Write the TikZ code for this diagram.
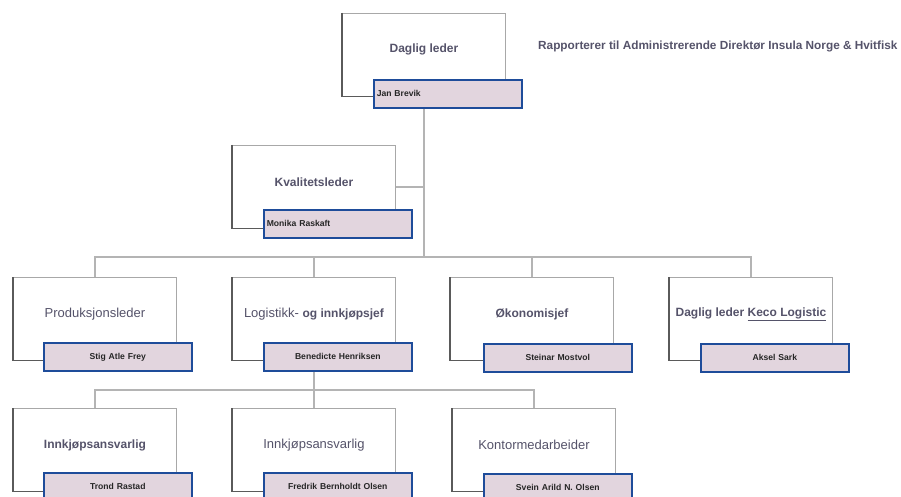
\documentclass[tikz,border=0pt]{standalone}
\usepackage{fontspec}
\setmainfont{Liberation Sans}
\usetikzlibrary{calc}
\definecolor{titlecol}{HTML}{55536A}
\definecolor{namefill}{HTML}{E2D5DE}
\definecolor{nameedge}{HTML}{1E4C9A}
\definecolor{linecol}{HTML}{B4B4B4}
\definecolor{boxedge}{HTML}{A8A8A8}
\definecolor{boxdark}{HTML}{5A5A5A}
\pgfdeclarelayer{background}
\pgfsetlayers{background,main}
\begin{document}
\begin{tikzpicture}[x=1pt,y=-1pt,
  rolebox/.style={draw=boxedge, line width=0.9pt, fill=white, minimum width=163pt, minimum height=83pt, inner sep=0pt, anchor=north west},
  titletext/.style={text=titlecol, font=\fontsize{13}{15}\selectfont, inner sep=0pt},
  titlebold/.style={titletext, font=\fontsize{12}{14}\selectfont\bfseries},
  namebox/.style={draw=nameedge, line width=1.6pt, fill=namefill, minimum width=148pt, minimum height=28pt, inner xsep=3pt, inner ysep=0pt, anchor=north west, text width=142pt, align=center, font=\fontsize{8.6}{10}\selectfont\bfseries, text=black!85},
  nameleft/.style={namebox, align=left},
  conn/.style={draw=linecol, line width=1.1pt},
  shadowedge/.style={draw=boxdark, line width=1.1pt}
]
\useasboundingbox (0,0) rectangle (901,497);
\clip (0,0) rectangle (901,497);

% role boxes
\node[rolebox] (dl) at (342,13) {};
\node[rolebox] (kv) at (232,145) {};
\node[rolebox] (pr) at (13,277) {};
\node[rolebox] (lg) at (232,277) {};
\node[rolebox] (ok) at (450,277) {};
\node[rolebox] (kc) at (669,277) {};
\node[rolebox] (i1) at (13,408) {};
\node[rolebox] (i2) at (232,408) {};
\node[rolebox] (km) at (452,408) {};

% darker left/bottom edges
\foreach \b in {dl,kv,pr,lg,ok,kc,i1,i2,km}{
  \draw[shadowedge] (\b.north west) -- (\b.south west) -- (\b.south east);
}

% titles
\node[titlebold] (tdl) at ($(dl.center)+(0,-6)$) {Daglig leder};
\node[titlebold] (tkv) at ($(kv.center)+(0,-5)$) {Kvalitetsleder};
\node[titletext] (tpr) at ($(pr.center)+(0,-5)$) {Produksjonsleder};
\node[titletext] (tlg) at ($(lg.center)+(0,-5)$) {Logistikk- \textbf{\fontsize{12}{14}\selectfont og innkjøpsjef}};
\node[titlebold] (tok) at ($(ok.center)+(0,-5)$) {Økonomisjef};
\node[titlebold] (tkc) at ($(kc.center)+(0,-5)$) {Daglig leder \underline{Keco Logistic}};
\node[titlebold] (ti1) at ($(i1.center)+(0,-5)$) {Innkjøpsansvarlig};
\node[titletext] (ti2) at ($(i2.center)+(0,-5)$) {Innkjøpsansvarlig};
\node[titletext] (tkm) at ($(km.center)+(0,-5)$) {Kontormedarbeider};

% name boxes
\node[nameleft] (ndl) at (373,79) {Jan Brevik};
\node[nameleft] (nkv) at (263,209) {Monika Raskaft};
\node[namebox] (npr) at (43,342) {Stig Atle Frey};
\node[namebox] (nlg) at (263,342) {Benedicte Henriksen};
\node[namebox] (nok) at (483,343) {Steinar Mostvol};
\node[namebox] (nkc) at (700,343) {Aksel Sark};
\node[namebox] (ni1) at (43,472) {Trond Rastad};
\node[namebox] (ni2) at (263,472) {Fredrik Bernholdt Olsen};
\node[namebox] (nkm) at (483,473) {Svein Arild N. Olsen};

% report note
\node[text=titlecol, font=\fontsize{11.8}{13}\selectfont\bfseries, anchor=west, inner sep=0pt] (rep) at (538,46) {Rapporterer til Administrerende Direktør Insula Norge \& Hvitfisk};

% connectors
\coordinate (bus1) at (423,257);
\coordinate (bus2) at (315,390);
\begin{pgfonlayer}{background}
  \draw[conn] (dl.south) -- (dl.south |- bus1);
  \draw[conn] (kv.east) -- (kv.east -| dl.south);
  \draw[conn] (pr.north) |- (bus1) -| (kc.north);
  \draw[conn] (lg.north) -- (lg.north |- bus1);
  \draw[conn] (ok.north) -- (ok.north |- bus1);
  \draw[conn] (lg.south) -- (lg.south |- bus2);
  \draw[conn] (i1.north) |- (bus2) -| (km.north);
  \draw[conn] (i2.north) -- (i2.north |- bus2);
\end{pgfonlayer}
\end{tikzpicture}
\end{document}
